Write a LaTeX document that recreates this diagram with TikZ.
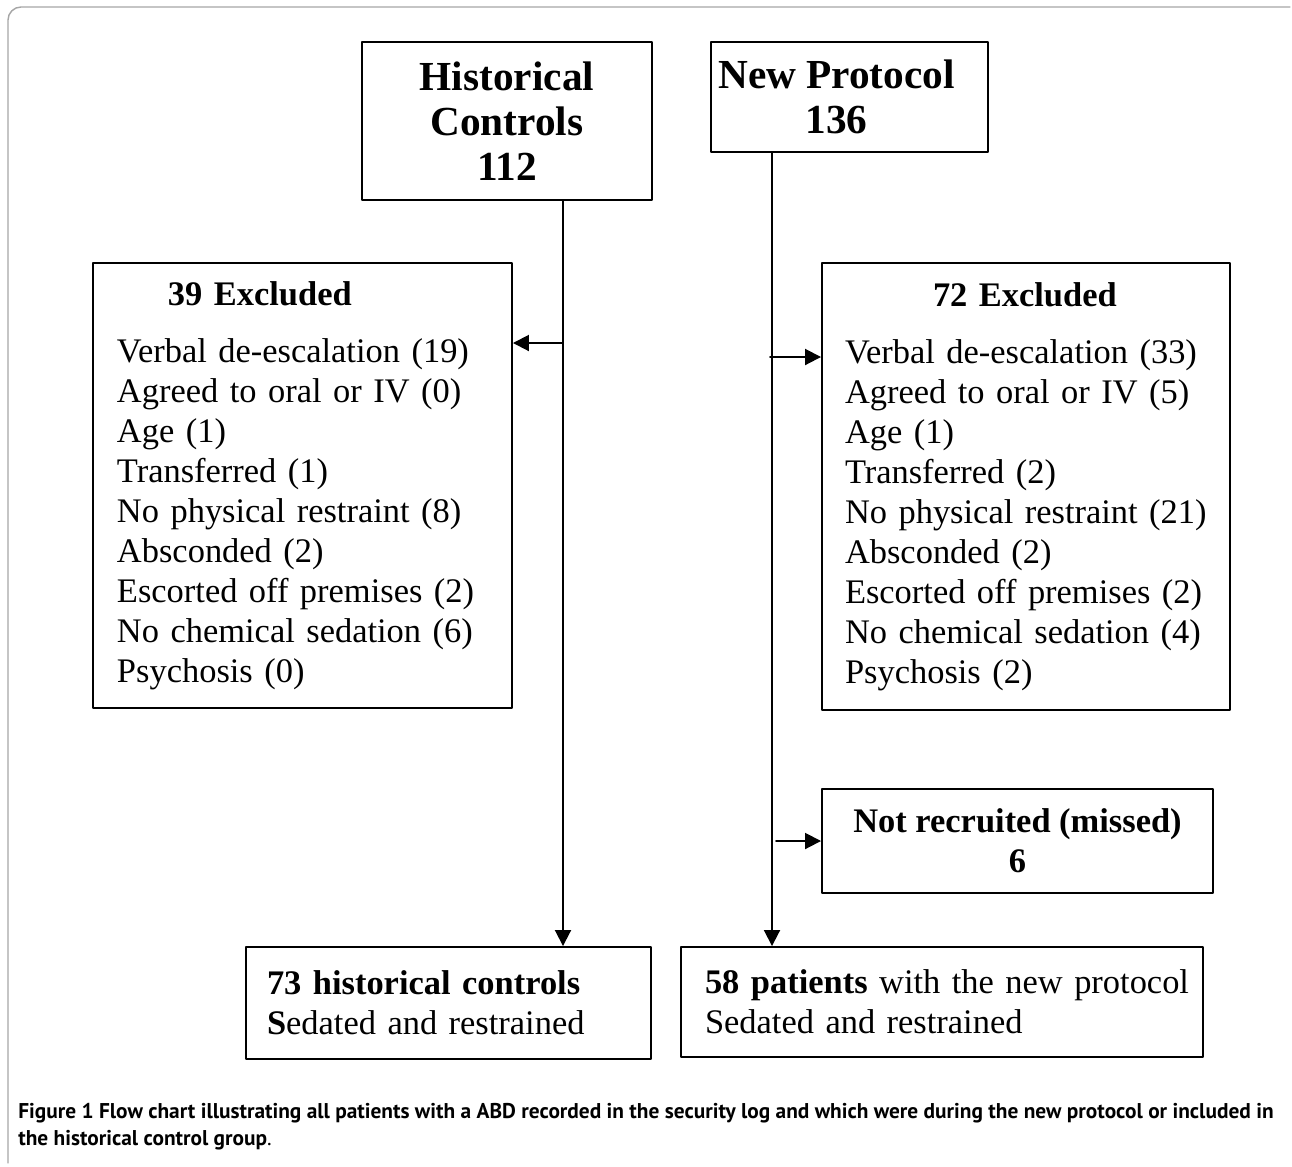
\documentclass[tikz,border=0pt]{standalone}
\usepackage{fontspec}
\setmainfont{Liberation Serif}
\newfontfamily\capfont{PT Sans}
\usepackage{tikz}
\usetikzlibrary{arrows.meta,positioning}
\newcommand\bodysize{\fontsize{19.6pt}{22.76pt}\selectfont}
\newcommand\headsize{\fontsize{23.5pt}{25.6pt}\selectfont}
\tikzset{
  every picture/.append style={line cap=round,line join=round},
  flow box/.style={draw,line width=1.1pt,inner sep=0pt},
  flow head/.style={flow box,font=\headsize\bfseries,align=center},
  flow list/.style={flow box,font=\bodysize,align=left},
  flow arrow/.style={line width=1.1pt,-{Triangle[length=3.2mm,width=3.2mm]}},
  flow frame/.style={gray!70,line width=0.8pt,rounded corners=2.6mm},
  flow caption/.style={font=\capfont\bfseries\fontsize{12.15pt}{15pt}\selectfont,anchor=base west,inner sep=0pt}
}

\begin{document}
\begin{tikzpicture}[x=0.2mm,y=-0.2mm]
  \useasboundingbox (0,0) rectangle (1292,1166);
  \draw[flow frame] (8,1163) -- (8,7) -- (1290,7);

  % the two groups
  \node[flow head,minimum width=58mm,minimum height=31.6mm] (hist) at (507,121) {Historical\\Controls\\112};
  \node[flow head,minimum width=55.4mm,minimum height=22mm] (new) at (849.5,97) {New Protocol\hspace*{5.2mm}\\136\hspace*{5.2mm}};

  % exclusions
  \node[flow list,text width=74.2mm,inner xsep=4.8mm,minimum height=89mm] (excl39) at (302.5,485.5) {%
    \hspace*{10.2mm}\textbf{39 Excluded}\\[3.4mm]
    Verbal de-escalation (19)\\
    Agreed to oral or IV (0)\\
    Age (1)\\
    Transferred (1)\\
    No physical restraint (8)\\
    Absconded (2)\\
    Escorted off premises (2)\\
    No chemical sedation (6)\\
    Psychosis (0)};
  \node[flow list,text width=72.4mm,inner xsep=4.6mm,minimum height=89.4mm] (excl72) at (1026,486.5) {%
    \hspace*{17.6mm}\textbf{72 Excluded}\\[3.4mm]
    Verbal de-escalation (33)\\
    Agreed to oral or IV (5)\\
    Age (1)\\
    Transferred (2)\\
    No physical restraint (21)\\
    Absconded (2)\\
    Escorted off premises (2)\\
    No chemical sedation (4)\\
    Psychosis (2)};
  \node[flow box,font=\bodysize\bfseries,align=center,minimum width=78.2mm,minimum height=20.8mm] (missed) at (1017.5,841) {Not recruited (missed)\\6};

  % final groups
  \node[flow list,text width=72.6mm,inner xsep=4.2mm,minimum height=22.4mm] (histfinal) at (448.5,1003) {%
    \mbox{\textbf{73 historical controls}}\\
    \textbf{S}edated and restrained};
  \node[flow list,text width=94.8mm,inner xsep=4.8mm,minimum height=22mm] (newfinal) at (942,1002) {%
    \mbox{\textbf{58 patients} with the new protocol}\\
    Sedated and restrained};

  % connectors
  \coordinate (histdrop) at (563,343);
  \coordinate (newdrop) at (770,357);
  \coordinate (missdrop) at (776,841);
  \draw[flow arrow] (hist.south -| histdrop) -- (histfinal.north -| histdrop);
  \draw[flow arrow] (histdrop) -- (histdrop -| excl39.east);
  \draw[flow arrow] (new.south -| 772,0) -- (newfinal.north -| 772,0);
  \draw[flow arrow] (newdrop) -- (newdrop -| excl72.west);
  \draw[flow arrow] (missdrop) -- (missdrop -| missed.west);

  % caption
  \node[flow caption] (cap1) at (18,1118) {Figure 1 Flow chart illustrating all patients with a ABD recorded in the security log and which were during the new protocol or included in};
  \node[flow caption] (cap2) at (18,1145) {the historical control group\mdseries.};
\end{tikzpicture}
\end{document}
